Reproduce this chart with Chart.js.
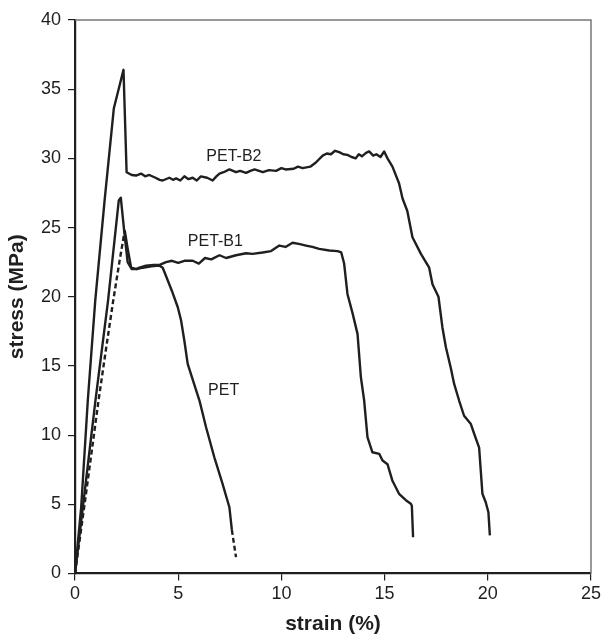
<!DOCTYPE html>
<html>
<head>
<meta charset="utf-8">
<script src="https://cdn.jsdelivr.net/npm/chart.js@4.4.1/dist/chart.umd.min.js"></script>
<style>
  html, body { margin: 0; padding: 0; background: #fff; }
  #wrap { width: 604px; height: 637px; }
</style>
</head>
<body>
<div id="wrap"><canvas id="c" width="604" height="637"></canvas></div>
<script>
// ---- data ----
const xTicks = [0, 5, 10, 15, 20, 25];
const yTicks = [0, 5, 10, 15, 20, 25, 30, 35, 40];

const petB2Strain = [0, 0.3, 0.62, 0.98, 1.43, 1.88, 2.35, 2.5, 2.75, 2.96, 3.2, 3.4, 3.6, 3.9, 4.1, 4.25, 4.57, 4.75, 4.9, 5.1, 5.3, 5.5, 5.7, 5.9, 6.1, 6.4, 6.67, 6.85, 7.0, 7.2, 7.48, 7.8, 8.0, 8.29, 8.5, 8.7, 9.1, 9.4, 9.74, 10.0, 10.2, 10.6, 10.8, 11.03, 11.4, 11.67, 12.0, 12.2, 12.4, 12.6, 12.8, 13.0, 13.2, 13.4, 13.6, 13.75, 13.9, 14.1, 14.25, 14.45, 14.6, 14.8, 14.98, 15.14, 15.38, 15.7, 15.87, 16.1, 16.35, 16.76, 17.16, 17.32, 17.61, 17.8, 17.97, 18.2, 18.37, 18.61, 18.85, 19.18, 19.34, 19.58, 19.66, 19.74, 19.9, 20.03, 20.1];
const petB2Stress = [0, 4.8, 12.5, 19.7, 26.9, 33.6, 36.4, 29.0, 28.8, 28.76, 28.9, 28.7, 28.8, 28.6, 28.45, 28.4, 28.6, 28.45, 28.55, 28.4, 28.7, 28.5, 28.6, 28.4, 28.7, 28.6, 28.4, 28.7, 28.9, 29.0, 29.2, 29.0, 29.1, 28.95, 29.1, 29.2, 29.0, 29.15, 29.1, 29.3, 29.2, 29.25, 29.4, 29.3, 29.4, 29.7, 30.2, 30.35, 30.3, 30.55, 30.45, 30.3, 30.25, 30.1, 30.0, 30.3, 30.15, 30.4, 30.5, 30.2, 30.3, 30.1, 30.5, 30.0, 29.4, 28.2, 27.1, 26.2, 24.3, 23.1, 22.1, 20.9, 20.0, 17.8, 16.35, 14.9, 13.7, 12.5, 11.4, 10.8, 10.1, 9.1, 7.44, 5.76, 5.15, 4.43, 2.75];

const petB1Strain = [0, 0.5, 0.99, 1.6, 2.12, 2.22, 2.4, 2.55, 2.75, 2.96, 3.12, 3.44, 3.8, 4.1, 4.41, 4.7, 5.0, 5.3, 5.7, 6.0, 6.3, 6.6, 7.0, 7.32, 7.8, 8.29, 8.6, 9.09, 9.5, 9.9, 10.2, 10.54, 10.9, 11.19, 11.5, 11.83, 12.32, 12.72, 12.9, 13.04, 13.2, 13.45, 13.69, 13.85, 14.01, 14.17, 14.41, 14.74, 14.9, 15.14, 15.38, 15.7, 16.03, 16.27, 16.32, 16.38];
const petB1Stress = [0, 6.3, 12.5, 19.7, 26.95, 27.15, 24.5, 22.5, 22.0, 22.0, 22.1, 22.25, 22.3, 22.3, 22.5, 22.6, 22.45, 22.6, 22.6, 22.4, 22.8, 22.7, 23.0, 22.8, 23.0, 23.14, 23.1, 23.2, 23.3, 23.7, 23.6, 23.9, 23.8, 23.7, 23.6, 23.46, 23.34, 23.3, 23.2, 22.4, 20.2, 18.8, 17.3, 14.2, 12.5, 9.85, 8.76, 8.65, 8.16, 7.9, 6.7, 5.76, 5.3, 5.04, 4.9, 2.62];

const petStrain = [0, 0.5, 1.14, 1.5, 1.85, 2.15, 2.41, 2.55, 2.72, 3.0, 3.28, 3.7, 4.09, 4.25, 4.41, 4.7, 4.98, 5.14, 5.3, 5.46, 5.75, 6.03, 6.35, 6.75, 7.15, 7.48, 7.6, 7.8];
const petStress = [0, 5.4, 12.5, 16.2, 19.7, 22.5, 24.8, 23.5, 22.1, 22.0, 22.1, 22.2, 22.25, 22.1, 21.5, 20.4, 19.24, 18.28, 16.8, 15.15, 13.8, 12.5, 10.57, 8.4, 6.48, 4.79, 3.15, 1.18];
const petPeakIndex = 6;

const seriesLabels = ['PET-B2', 'PET-B1', 'PET'];
const labelAnchorX = [7.7, 6.8, 7.2];
const labelAnchorY = [30.1, 24.0, 13.2];

// ---- build ----
const toPts = (xs, ys) => xs.map((x, i) => ({ x: x, y: ys[i] }));
const INK = '#1f1f1f';
const FONT = "'Liberation Sans', Arial, Helvetica, sans-serif";

const lastPet = petStrain.length - 1;

const curveLabels = {
  id: 'curveLabels',
  afterDatasetsDraw(chart) {
    const { ctx, scales } = chart;
    ctx.save();
    ctx.font = '16px ' + FONT;
    ctx.fillStyle = INK;
    ctx.textAlign = 'center';
    ctx.textBaseline = 'middle';
    seriesLabels.forEach((t, i) => {
      ctx.fillText(t, scales.x.getPixelForValue(labelAnchorX[i]), scales.y.getPixelForValue(labelAnchorY[i]));
    });
    ctx.restore();
  }
};

const frame = {
  id: 'frame',
  beforeDatasetsDraw(chart) {
    const { ctx, chartArea: a } = chart;
    ctx.save();
    ctx.strokeStyle = '#777';
    ctx.lineWidth = 1.5;
    ctx.beginPath();
    ctx.moveTo(a.left, a.top);
    ctx.lineTo(a.right, a.top);
    ctx.lineTo(a.right, a.bottom);
    ctx.stroke();
    ctx.restore();
  }
};

new Chart(document.getElementById('c'), {
  type: 'line',
  data: {
    datasets: [
      { label: seriesLabels[0], data: toPts(petB2Strain, petB2Stress) },
      { label: seriesLabels[1], data: toPts(petB1Strain, petB1Stress) },
      {
        label: seriesLabels[2], data: toPts(petStrain, petStress),
        segment: {
          borderDash: ctx => (ctx.p1DataIndex <= petPeakIndex || ctx.p0DataIndex >= lastPet - 1) ? [5, 3] : undefined
        }
      }
    ].map(d => Object.assign({
      borderColor: INK, borderWidth: 2.4, pointRadius: 0, tension: 0, fill: false,
      borderJoinStyle: 'round', borderCapStyle: 'butt'
    }, d))
  },
  options: {
    responsive: false,
    animation: false,
    events: [],
    layout: { padding: { top: 20, right: 11.5, left: 0, bottom: 0 } },
    plugins: { legend: { display: false }, tooltip: { enabled: false } },
    scales: {
      x: {
        type: 'linear', min: 0, max: 25,
        afterBuildTicks: s => { s.ticks = xTicks.map(v => ({ value: v })); },
        afterFit: s => { s.height = 63.5; },
        ticks: { font: { family: FONT, size: 18 }, color: INK, padding: 3, maxRotation: 0 },
        grid: { display: true, drawOnChartArea: false, drawTicks: true, tickLength: 7, color: INK, lineWidth: 1.2 },
        border: { display: true, color: INK, width: 2.2 },
        title: { display: true, text: 'strain (%)', font: { family: FONT, size: 21, weight: 'bold' }, color: INK, padding: { top: 0, bottom: 0 } }
      },
      y: {
        type: 'linear', min: 0, max: 40,
        afterBuildTicks: s => { s.ticks = yTicks.map(v => ({ value: v })); },
        afterFit: s => { s.width = 75; },
        ticks: { font: { family: FONT, size: 18 }, color: INK, padding: 7 },
        grid: { display: true, drawOnChartArea: false, drawTicks: true, tickLength: 7, color: INK, lineWidth: 1.2 },
        border: { display: true, color: INK, width: 2.2 },
        title: { display: true, text: 'stress (MPa)', font: { family: FONT, size: 21, weight: 'bold' }, color: INK, padding: { top: 5, bottom: 0 } }
      }
    }
  },
  plugins: [frame, curveLabels]
});
</script>
</body>
</html>
